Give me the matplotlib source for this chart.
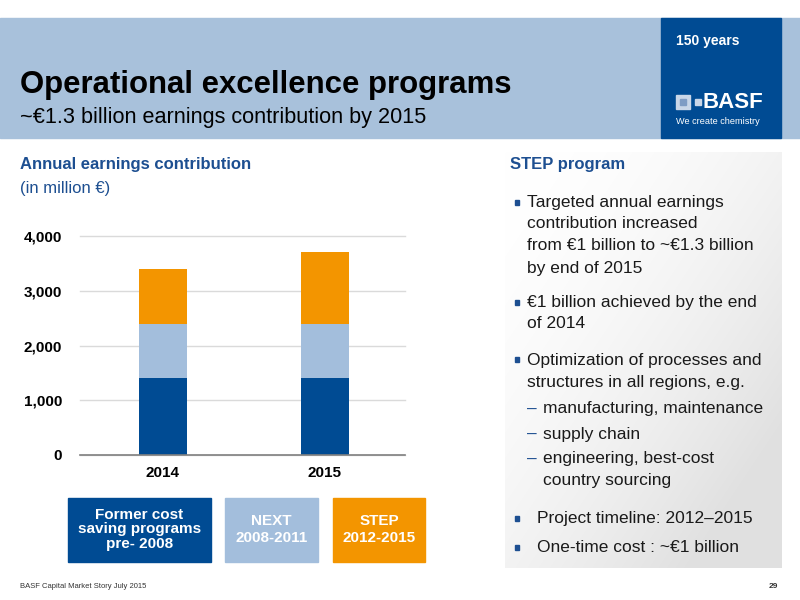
import numpy as np
import matplotlib
matplotlib.use("Agg")
import matplotlib.pyplot as plt
from matplotlib.patches import Rectangle

# ---- data ----
years = ["2014", "2015"]
former = [1400, 1400]
next_prog = [1000, 1000]
step_prog = [1000, 1300]
yticks = [0, 1000, 2000, 3000, 4000]
ytick_labels = ["0", "1,000", "2,000", "3,000", "4,000"]

DARK = "#004B93"
LIGHT = "#A3BEDC"
ORANGE = "#F39500"
BAND = "#A8C1DB"
TXTBLUE = "#1D4F91"
TXT = "#1A1A1A"

plt.rcParams['font.family'] = ['Liberation Sans', 'DejaVu Sans']

fig = plt.figure(figsize=(8, 6), dpi=100)
bg = fig.add_axes([0, 0, 1, 1])
bg.set_xlim(0, 800)
bg.set_ylim(600, 0)
bg.axis("off")

# header band
bg.add_patch(Rectangle((0, 18), 800, 120, color=BAND, zorder=1))
bg.add_patch(Rectangle((661, 18), 120, 120, color=DARK, zorder=2))
bg.text(676, 41, "150 years", color="white", fontsize=10, fontweight="bold",
        va="center", ha="left", zorder=3)
# logo
bg.add_patch(Rectangle((676, 95), 14, 14, color="#C9D6E8", zorder=3))
bg.add_patch(Rectangle((680, 99), 6, 6, color="#7F9CC4", zorder=4))
bg.add_patch(Rectangle((695, 99), 6, 6, color="#C9D6E8", zorder=3))
bg.text(703, 102.5, "BASF", color="white", fontsize=16, fontweight="bold",
        va="center", ha="left", zorder=3)
bg.text(676, 121, "We create chemistry", color="white", fontsize=6.6,
        va="center", ha="left", zorder=3)

bg.text(20, 85, "Operational excellence programs", fontsize=22.4, fontweight="bold",
        color="black", va="center", ha="left", zorder=3)
bg.text(20, 118, "~€1.3 billion earnings contribution by 2015", fontsize=15.6,
        color="black", va="center", ha="left", zorder=3)

# left headings
bg.text(20, 165, "Annual earnings contribution", fontsize=12, fontweight="bold",
        color=TXTBLUE, va="center", ha="left")
bg.text(20, 188, "(in million €)", fontsize=12, color=TXTBLUE, va="center", ha="left")

# legend boxes
boxes = [
    (68, 211, DARK, "Former cost\nsaving programs\npre- 2008", 1.05),
    (225, 318, LIGHT, "NEXT\n2008-2011", 1.3),
    (333, 425, ORANGE, "STEP\n2012-2015", 1.3),
]
for x0, x1, c, t, ls in boxes:
    bg.add_patch(Rectangle((x0, 498), x1 - x0, 64, color=c, zorder=2))
    bg.text((x0 + x1) / 2, 529.5, t, color="white", fontsize=11, fontweight="bold",
            ha="center", va="center", linespacing=ls, zorder=3)

# right panel gradient
gx = np.linspace(0, 1, 200)
gy = np.linspace(0, 1, 200)
GX, GY = np.meshgrid(gx, gy)
g = 1.0 - 0.12 * np.clip((GX * 0.6 + GY * 0.6), 0, 1) ** 1.8
img = np.dstack([g, g, g])
bg.imshow(img, extent=(505, 782, 568, 152), aspect="auto", zorder=1, interpolation="bilinear")
bg.set_xlim(0, 800)
bg.set_ylim(600, 0)

bg.text(510, 165, "STEP program", fontsize=12, fontweight="bold", color=TXTBLUE,
        va="center", ha="left", zorder=3)

fs = 12.5
lines = [
    (527, 203, "Targeted annual earnings", True),
    (527, 224, "contribution increased", False),
    (527, 246, "from €1 billion to ~€1.3 billion", False),
    (527, 268, "by end of 2015", False),
    (527, 303, "€1 billion achieved by the end", True),
    (527, 324, "of 2014", False),
    (527, 360, "Optimization of processes and", True),
    (527, 382, "structures in all regions, e.g.", False),
    (537, 519, "Project timeline: 2012–2015", True),
    (537, 548, "One-time cost : ~€1 billion", True),
]
for x, y, t, b in lines:
    bg.text(x, y, t, fontsize=fs, color=TXT, va="center", ha="left", zorder=3)
    if b:
        bg.add_patch(Rectangle((514.5, y - 3.5), 4.5, 5, color=TXTBLUE, zorder=3))

subs = [
    (409, "manufacturing, maintenance", True),
    (434, "supply chain", True),
    (459, "engineering, best-cost", True),
    (481, "country sourcing", False),
]
for y, t, d in subs:
    bg.text(543, y, t, fontsize=fs, color=TXT, va="center", ha="left", zorder=3)
    if d:
        bg.text(527, y, "–", fontsize=fs, color=TXTBLUE, va="center", ha="left", zorder=3)

# footer
bg.text(20, 587, "BASF Capital Market Story July 2015", fontsize=5.5, color="#333333",
        va="center", ha="left")
bg.text(778, 587, "29", fontsize=6, fontweight="bold", color="#333333",
        va="center", ha="right")

# ---- chart ----
ax = fig.add_axes([80 / 800, 1 - 455 / 600, 325 / 800, 219 / 600])
ax.set_facecolor("none")
x = np.arange(len(years))
w = 0.296
ax.bar(x, former, w, color=DARK, zorder=3)
ax.bar(x, next_prog, w, bottom=former, color=LIGHT, zorder=3)
bottom2 = [a + b for a, b in zip(former, next_prog)]
ax.bar(x, step_prog, w, bottom=bottom2, color=ORANGE, zorder=3)
ax.set_xlim(-0.512, 1.494)
ax.set_ylim(0, 4000)
ax.set_yticks(yticks)
ax.set_yticklabels(ytick_labels)
ax.set_xticks(x)
ax.set_xticklabels(years)
for s in ["top", "right", "left"]:
    ax.spines[s].set_visible(False)
ax.spines["bottom"].set_color("#808080")
ax.spines["bottom"].set_linewidth(1.2)
ax.spines["bottom"].set_zorder(4)
ax.tick_params(axis="both", length=0, labelsize=11)
ax.tick_params(axis="y", pad=13)
ax.tick_params(axis="x", pad=8)
for lab in ax.get_xticklabels() + ax.get_yticklabels():
    lab.set_fontweight("bold")
ax.grid(axis="y", color="#DADADA", linewidth=1, zorder=0)
ax.set_axisbelow(True)
for gl in ax.get_ygridlines():
    gl.set_clip_on(False)

fig.savefig("out.png", dpi=100)
